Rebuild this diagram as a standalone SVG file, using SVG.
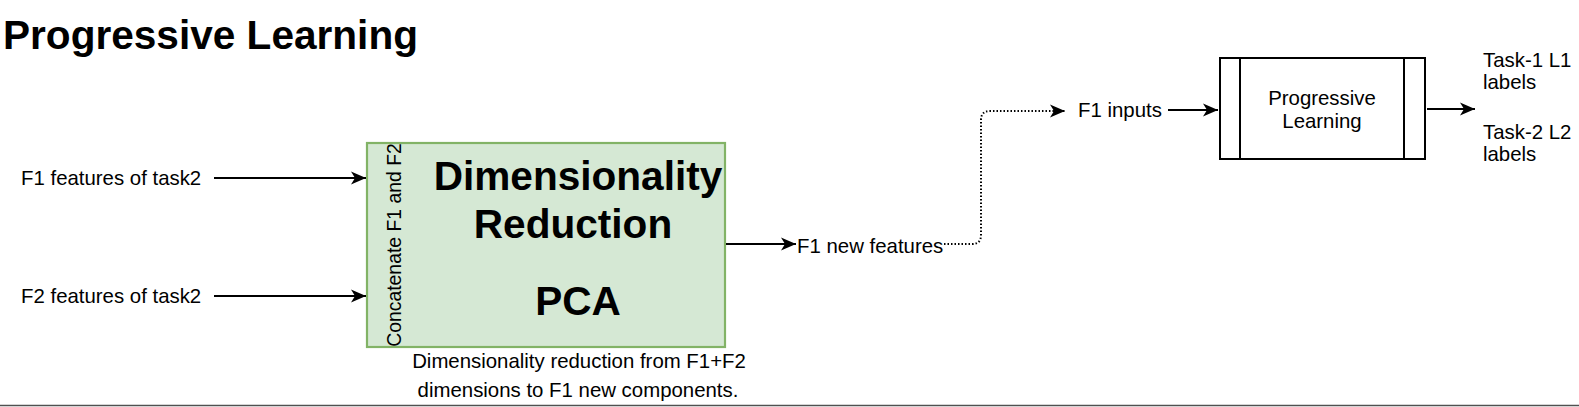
<svg xmlns="http://www.w3.org/2000/svg" width="1579" height="407" viewBox="0 0 1579 407">
<style>
text{font-family:"Liberation Sans",Arial,sans-serif;fill:#000}
.t{font-size:20.4px}
.b{font-weight:bold;font-size:40.6px}
.c{text-anchor:middle}
.ln{fill:none;stroke:#000;stroke-width:2}
.dot{fill:none;stroke:#000;stroke-width:2;stroke-dasharray:1.5 2}
</style>
<defs>
<marker id="ah" markerUnits="userSpaceOnUse" markerWidth="18" markerHeight="16" refX="16" refY="8" orient="auto" overflow="visible">
<path d="M16,8 L1,1.5 L5,8 L1,14.5 Z" fill="#000"/>
</marker>
</defs>
<rect width="1579" height="407" fill="#fff"/>
<g id="title"><text x="3" y="49" class="b">Progressive Learning</text></g>
<g id="in1"><text x="21" y="185" class="t">F1 features of task2</text></g>
<g id="in2"><text x="21" y="303" class="t">F2 features of task2</text></g>
<g id="pca">
<rect x="367" y="143" width="358" height="204" fill="#d5e8d4" stroke="#82b366" stroke-width="2.2"/>
<text transform="translate(401,245) rotate(-90)" class="c" style="font-size:19.4px">Concatenate F1 and F2</text>
<text x="578" y="190" class="b c">Dimensionality</text>
<text x="573" y="238" class="b c">Reduction</text>
<text x="578" y="315" class="b c">PCA</text>
</g>
<g id="caption">
<text x="579" y="368" class="t c">Dimensionality reduction from F1+F2</text>
<text x="578" y="397" class="t c">dimensions to F1 new components.</text>
</g>
<g id="newfeat"><text x="797" y="253" class="t">F1 new features</text></g>
<g id="inputs"><text x="1078" y="117" class="t">F1 inputs</text></g>
<g id="pl">
<rect x="1220" y="58" width="205" height="101" fill="#fff" stroke="#000" stroke-width="2"/>
<line x1="1240" y1="58" x2="1240" y2="159" stroke="#000" stroke-width="2"/>
<line x1="1404" y1="58" x2="1404" y2="159" stroke="#000" stroke-width="2"/>
<text x="1322" y="105" class="t c">Progressive</text>
<text x="1322" y="128" class="t c">Learning</text>
</g>
<g id="labels">
<text x="1483" y="67" class="t">Task-1 L1</text>
<text x="1483" y="89" class="t">labels</text>
<text x="1483" y="139" class="t">Task-2 L2</text>
<text x="1483" y="161" class="t">labels</text>
</g>
<g id="connectors">
<line x1="214" y1="178" x2="366" y2="178" class="ln" marker-end="url(#ah)"/>
<line x1="214" y1="296" x2="366" y2="296" class="ln" marker-end="url(#ah)"/>
<line x1="726" y1="244" x2="796" y2="244" class="ln" marker-end="url(#ah)"/>
<path d="M944,244 L972,244 Q981,244 981,235 L981,120 Q981,111 990,111 L1065,111" class="dot" marker-end="url(#ah)"/>
<line x1="1168" y1="110" x2="1218" y2="110" class="ln" marker-end="url(#ah)"/>
<line x1="1427" y1="109" x2="1475" y2="109" class="ln" marker-end="url(#ah)"/>
</g>
<line x1="0" y1="405.5" x2="1579" y2="405.5" stroke="#505050" stroke-width="1.5"/>
</svg>
